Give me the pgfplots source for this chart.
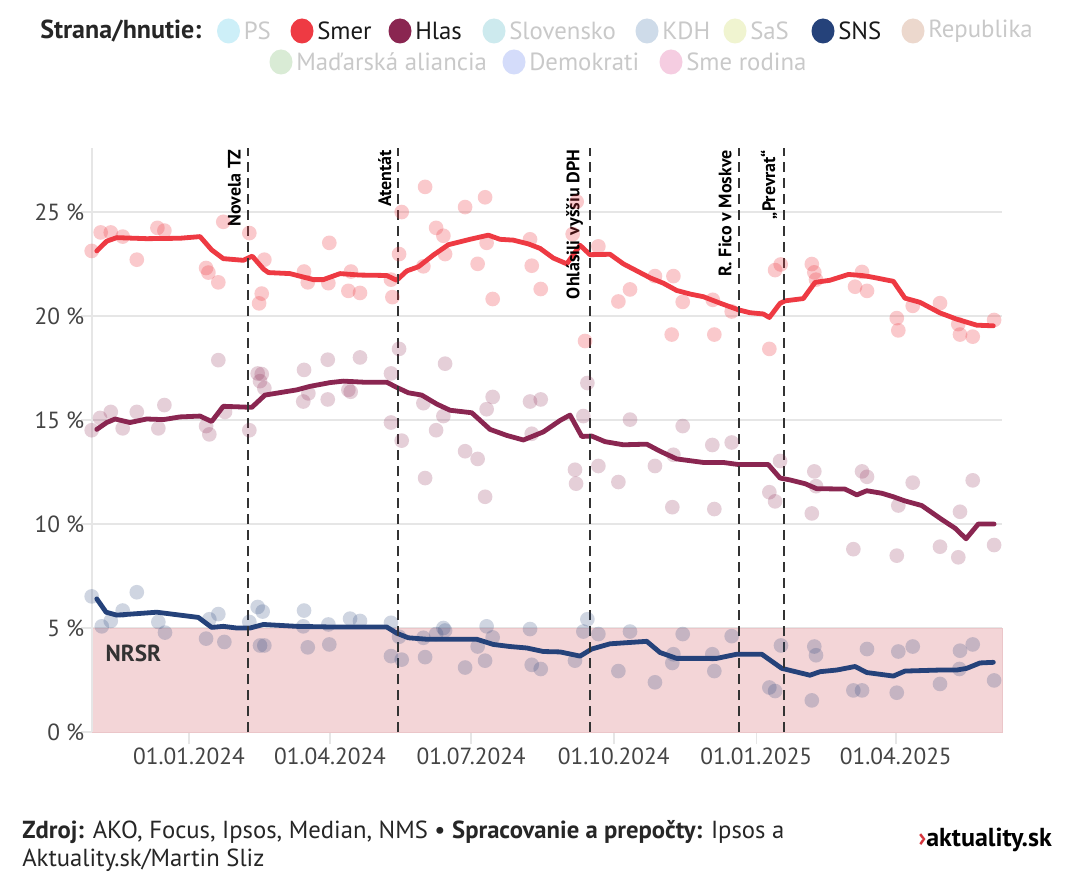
\documentclass[border=0pt]{standalone}
\usepackage{pgfplots}
\pgfplotsset{compat=1.18}
\usepackage{pgfplotstable}
\usepackage{fontspec}
\setmainfont{PT Sans}
\definecolor{smer}{HTML}{EE3A43}
\definecolor{hlas}{HTML}{8A2651}
\definecolor{sns}{HTML}{25427A}
\definecolor{nrsr}{HTML}{F3D5D7}
\definecolor{nrsrline}{HTML}{EBC6C9}
\definecolor{gridgrey}{HTML}{E6E6E6}
\definecolor{labgrey}{HTML}{444444}
\definecolor{offtext}{HTML}{C9C9C9}
\definecolor{cPS}{HTML}{CDEFF8}
\definecolor{cSlov}{HTML}{CDEAEE}
\definecolor{cKDH}{HTML}{CEDBE9}
\definecolor{cSaS}{HTML}{F0F4D0}
\definecolor{cRep}{HTML}{ECD8CD}
\definecolor{cMA}{HTML}{D9EBD5}
\definecolor{cDem}{HTML}{D4DCFA}
\definecolor{cSR}{HTML}{F5CDE1}

% x = days since 01.01.2024, y = percent
\pgfplotstableread{
d v
-62.8 23.13
-57.0 24.02
-50.5 24.02
-42.8 23.82
-33.7 22.71
-20.4 24.24
-15.9 24.11
11.0 22.31
12.5 22.09
18.9 21.62
22.1 24.53
38.9 23.99
48.6 22.71
46.9 21.08
45.2 20.61
74.2 22.14
76.6 21.62
89.9 21.58
90.5 23.52
102.8 21.21
104.5 22.14
110.3 21.11
130.3 21.75
131.2 20.91
135.5 22.98
137.2 25.00
151.2 22.39
152.3 26.21
159.4 24.24
164.1 23.86
165.2 22.98
178.1 25.24
186.2 22.51
191.0 25.71
192.0 23.52
195.9 20.82
220.0 23.69
221.1 22.42
226.9 21.30
247.5 23.94
250.1 25.50
255.5 18.80
264.1 23.35
277.0 20.70
284.5 21.28
300.6 21.92
311.4 19.11
312.5 21.92
318.5 20.68
337.9 20.78
338.9 19.11
350.1 20.22
374.4 18.42
378.1 22.21
381.7 22.48
401.8 22.50
403.4 22.10
404.5 21.75
429.7 21.41
434.2 22.12
437.4 21.21
456.6 19.90
457.6 19.31
466.9 20.49
484.5 20.62
496.3 19.61
497.4 19.11
505.6 19.01
519.4 19.81
}\smerpolls

\pgfplotstableread{
d v
-59.5 23.13
-53.1 23.60
-46.6 23.77
-27.3 23.72
-5.8 23.74
7.1 23.82
14.6 23.18
22.1 22.76
35.0 22.68
40.8 22.88
48.0 22.26
51.2 22.09
65.2 22.04
80.2 21.75
86.6 21.75
97.4 22.04
110.3 21.97
127.5 21.95
134.0 21.72
140.5 22.17
148.0 22.37
157.6 22.93
167.3 23.43
181.3 23.69
193.1 23.89
200.6 23.69
209.2 23.65
218.9 23.47
226.5 23.25
235.0 22.79
243.7 22.51
252.3 23.40
258.7 22.95
271.6 22.97
280.2 22.51
297.4 21.84
306.0 21.58
314.6 21.23
323.2 21.06
331.8 20.93
342.6 20.62
354.4 20.30
361.9 20.16
370.5 20.10
374.4 19.93
381.3 20.61
384.5 20.73
396.3 20.84
403.9 21.62
413.5 21.72
425.4 22.00
434.0 21.95
439.4 21.89
454.4 21.67
461.9 20.86
471.6 20.66
484.5 20.15
495.3 19.85
508.2 19.56
518.9 19.53
}\smerline

\pgfplotstableread{
d v
-62.8 14.51
-57.4 15.10
-50.5 15.39
-42.8 14.60
-33.7 15.39
-19.8 14.60
-15.9 15.72
11.0 14.71
13.1 14.31
18.9 17.88
23.2 15.39
38.9 14.51
44.3 17.24
46.9 17.21
45.8 16.87
48.6 16.53
73.7 15.89
74.2 17.41
77.0 16.28
89.5 17.90
89.5 15.99
102.8 16.45
104.3 16.36
110.3 18.01
130.3 17.24
130.3 14.88
135.5 18.42
137.2 14.01
151.2 15.81
152.3 12.21
159.4 14.51
164.1 15.19
165.2 17.71
178.1 13.50
186.2 13.13
191.0 11.31
192.0 15.52
195.9 16.11
220.0 15.89
221.1 14.34
226.9 15.99
249.0 12.61
249.7 11.94
254.4 15.19
257.0 16.78
264.1 12.79
277.0 12.02
284.5 15.02
300.6 12.79
311.8 10.81
312.5 13.33
318.5 14.71
337.6 13.80
338.9 10.72
350.1 13.92
374.4 11.53
378.1 11.09
381.3 13.03
401.8 10.51
403.4 12.53
404.5 11.82
428.6 8.79
434.2 12.53
437.4 12.27
456.6 8.48
457.6 10.89
466.9 11.99
484.5 8.91
496.3 8.40
497.4 10.59
505.6 12.10
519.4 8.99
}\hlaspolls

\pgfplotstableread{
d v
-59.5 14.55
-53.1 14.88
-47.7 15.05
-38.1 14.88
-27.3 15.05
-16.6 15.02
-5.8 15.15
7.1 15.19
14.6 14.93
22.1 15.66
40.5 15.61
49.0 16.20
69.5 16.45
78.1 16.62
91.0 16.80
99.6 16.87
112.5 16.82
127.5 16.82
134.0 16.57
141.5 16.31
150.1 16.20
159.8 15.77
168.4 15.47
182.4 15.35
194.2 14.55
205.0 14.26
215.7 14.04
228.6 14.43
239.4 14.98
245.8 15.24
253.4 14.21
259.8 14.23
268.4 13.96
280.2 13.81
295.3 13.84
303.9 13.50
314.6 13.13
331.8 12.96
344.7 12.96
354.4 12.86
373.7 12.86
381.3 12.21
387.7 12.12
397.4 11.94
404.9 11.70
423.2 11.68
430.8 11.40
437.2 11.60
446.9 11.48
454.4 11.31
461.9 11.11
472.7 10.89
485.6 10.22
494.2 9.80
501.3 9.29
509.2 10.00
519.4 10.00
}\hlasline

\pgfplotstableread{
d v
-62.8 6.52
-56.3 5.08
-50.5 5.34
-42.8 5.84
-33.7 6.72
-19.8 5.29
-15.5 4.78
11.0 4.49
13.1 5.42
18.9 5.67
22.8 4.33
38.9 5.29
44.3 6.01
47.5 5.79
45.8 4.16
48.6 4.16
73.7 5.08
74.2 5.84
76.6 4.07
89.9 5.17
90.5 4.21
103.9 5.45
110.3 5.34
130.3 5.25
130.3 3.65
135.5 4.58
137.2 3.48
151.2 4.53
152.3 3.60
159.4 4.71
164.1 5.00
165.2 4.88
178.1 3.10
186.2 4.11
191.0 3.43
192.0 5.08
195.9 4.55
220.0 4.95
221.1 3.23
226.9 3.03
249.0 3.43
254.4 4.83
257.0 5.42
264.1 4.71
277.0 2.93
284.5 4.83
300.6 2.39
311.8 3.32
312.5 3.74
318.5 4.71
337.6 3.74
338.9 2.93
350.1 4.61
374.4 2.14
378.1 1.97
381.9 4.16
401.8 1.52
403.4 4.11
404.5 3.69
428.6 2.00
434.2 2.00
437.4 3.99
456.6 1.89
457.6 3.87
466.9 4.11
484.5 2.31
497.0 3.03
497.4 3.91
505.6 4.21
519.4 2.48
}\snspolls

\pgfplotstableread{
d v
-59.5 6.40
-53.5 5.76
-46.6 5.62
-20.8 5.76
-5.8 5.62
6.0 5.51
14.6 5.03
22.1 5.08
30.8 5.00
39.4 5.00
48.0 5.17
69.5 5.08
91.0 5.05
127.5 5.05
134.0 4.75
141.5 4.53
153.4 4.46
185.6 4.46
196.3 4.21
207.1 4.11
217.9 4.04
228.6 3.87
239.4 3.85
252.3 3.65
259.8 3.99
271.6 4.24
295.3 4.36
303.9 3.82
314.6 3.54
340.5 3.54
353.4 3.74
369.5 3.74
382.4 3.06
400.6 2.73
407.1 2.90
417.9 2.98
429.7 3.15
437.2 2.86
454.4 2.69
461.9 2.93
484.5 2.98
495.3 2.98
501.7 3.06
510.3 3.32
518.9 3.35
}\snsline

\newcommand{\legitem}[4]{% x-circle, y, colour, text
  \fill[#3] (#1,#2) ellipse (11.5 and 12.5);
  \node[anchor=west, inner sep=0pt, font=\fontsize{18.6}{20}\selectfont] at (#1+15,#2) {#4};}

\begin{document}
\begin{tikzpicture}[x=0.75pt,y=0.75pt]
\path[use as bounding box, fill=white] (0,0) rectangle (1080,886);

% ---- legend ----
\node[anchor=west, inner sep=0pt, font=\fontsize{19.5}{21}\selectfont\bfseries, text=black!85] at (40,855) {Strana/hnutie:};
\legitem{228.5}{855}{cPS}{\textcolor{offtext}{PS}}
\legitem{302}{855}{smer}{\textcolor{black!90}{Smer}}
\legitem{400}{855}{hlas}{\textcolor{black!90}{Hlas}}
\legitem{494}{855}{cSlov}{\textcolor{offtext}{Slovensko}}
\legitem{647}{855}{cKDH}{\textcolor{offtext}{KDH}}
\legitem{735}{855}{cSaS}{\textcolor{offtext}{SaS}}
\legitem{823}{855}{sns}{\textcolor{black!90}{SNS}}
\legitem{913}{855}{cRep}{\textcolor{offtext}{Republika}}
\legitem{281}{824}{cMA}{\textcolor{offtext}{Maďarská aliancia}}
\legitem{514}{824}{cDem}{\textcolor{offtext}{Demokrati}}
\legitem{671}{824}{cSR}{\textcolor{offtext}{Sme rodina}}

\begin{axis}[
  at={(69pt,115.5pt)}, anchor=south west,
  width=682.5pt, height=438pt, scale only axis,
  xmin=-62.6, xmax=524.5, ymin=0, ymax=28.08,
  axis line style={draw=none},
  tick pos=left, tick align=outside,
  xtick={0,91,182,274,366,456},
  xticklabels={01.01.2024,01.04.2024,01.07.2024,01.10.2024,01.01.2025,01.04.2025},
  ytick={0,5,10,15,20,25},
  yticklabels={0 \%,5 \%,10 \%,15 \%,20 \%,25 \%},
  xtick style={draw=gridgrey, line width=1.2pt, /pgfplots/major tick length=9pt},
  ytick style={draw=gridgrey, line width=1.2pt, /pgfplots/major tick length=8pt},
  ymajorgrids, grid style={draw=gridgrey, line width=1.2pt},
  ticklabel style={font=\fontsize{17.5}{19}\selectfont, text=labgrey},
  xticklabel style={yshift=-4pt},
  yticklabel style={xshift=2pt},
  /pgf/number format/assume math mode=true,
  clip=false,
]
% threshold band
\addplot[fill=nrsr, draw=nrsrline, line width=0.6pt] coordinates {(-62.6,0) (524.5,0) (524.5,5) (-62.6,5)} -- cycle;
% left axis line
\addplot[gridgrey, line width=1.2pt] coordinates {(-62.6,0) (-62.6,28.08)};
\node[anchor=west, inner sep=0pt, font=\fontsize{17.4}{19}\selectfont\bfseries, text=black!80] at (axis cs:-54,3.78) {NRSR};

% poll dots
\addplot[only marks, mark=*, mark size=5.5pt, smer, mark options={fill=smer, fill opacity=0.27, draw opacity=0}] table[x=d,y=v] {\smerpolls};
\addplot[only marks, mark=*, mark size=5.5pt, hlas, mark options={fill=hlas, fill opacity=0.22, draw opacity=0}] table[x=d,y=v] {\hlaspolls};
\addplot[only marks, mark=*, mark size=5.5pt, sns, mark options={fill=sns, fill opacity=0.22, draw opacity=0}] table[x=d,y=v] {\snspolls};

% averages
\addplot[smer, line width=3.6pt, line join=round, line cap=round] table[x=d,y=v] {\smerline};
\addplot[hlas, line width=3.6pt, line join=round, line cap=round] table[x=d,y=v] {\hlasline};
\addplot[sns, line width=3.6pt, line join=round, line cap=round] table[x=d,y=v] {\snsline};

% events
\pgfplotsinvokeforeach{38,135,258.7,354.5,384}{
  \addplot[black!80, line width=1.5pt, dash pattern=on 7.5pt off 4.5pt] coordinates {(#1,0) (#1,28.08)};
}
\tikzset{evl/.style={rotate=90, anchor=south east, inner sep=0pt, font=\fontsize{13.5}{14}\selectfont\bfseries}}
\node[evl] at ([xshift=-5pt]axis cs:38,28.0) {Novela TZ};
\node[evl] at ([xshift=-5pt]axis cs:135,28.0) {Atentát};
\node[evl] at ([xshift=-5pt]axis cs:258.7,28.0) {Ohlásili vyššiu DPH};
\node[evl] at ([xshift=-5pt]axis cs:354.5,28.0) {R. Fico v Moskve};
\node[evl] at ([xshift=-5pt]axis cs:384,28.0) {„Prevrat“};
\end{axis}

% ---- footer ----
\node[anchor=base west, inner sep=0pt, font=\fontsize{18.5}{20}\selectfont, text=black!85] at (22,48) {\textbf{Zdroj:} AKO, Focus, Ipsos, Median, NMS • \textbf{Spracovanie a prepočty:} Ipsos a};
\node[anchor=base west, inner sep=0pt, font=\fontsize{18.5}{20}\selectfont, text=black!85] at (22,20) {Aktuality.sk/Martin Sliz};
\node[anchor=base east, inner sep=0pt, font=\fontsize{19.5}{21}\selectfont\bfseries] at (1052,40) {\textcolor{smer!90!black}{›}aktuality.sk};
\end{tikzpicture}
\end{document}
